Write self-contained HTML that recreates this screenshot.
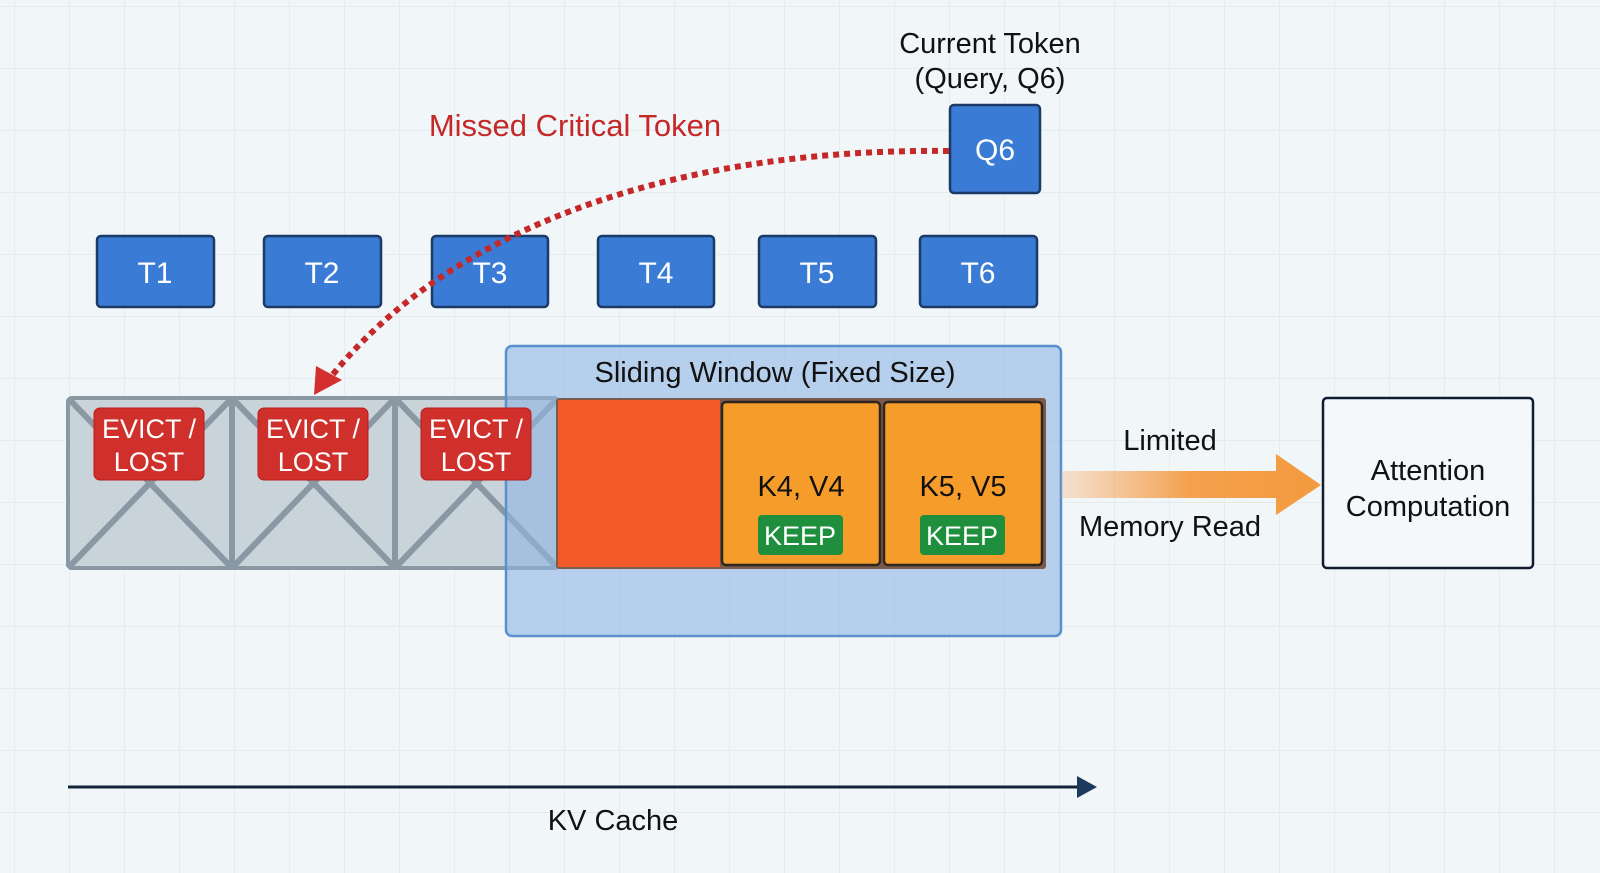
<!DOCTYPE html>
<html><head><meta charset="utf-8"><style>
html,body{margin:0;padding:0;background:#f1f6f9;}
svg{display:block;}
text{font-family:"Liberation Sans",sans-serif;}
</style></head><body>
<svg width="1600" height="873" viewBox="0 0 1600 873" xmlns="http://www.w3.org/2000/svg">
<defs>
<pattern id="g" width="55" height="62" patternUnits="userSpaceOnUse" x="14" y="6">
<path d="M0 0H55M0 0V62" stroke="#dde5ea" stroke-width="1.2" fill="none"/>
</pattern>
<linearGradient id="ar" x1="0" x2="1">
<stop offset="0" stop-color="#f7a55a" stop-opacity="0.25"/>
<stop offset="0.5" stop-color="#f4a04d"/>
<stop offset="1" stop-color="#f39a3d"/>
</linearGradient>
</defs>
<rect width="1600" height="873" fill="#f1f6f9"/>
<rect width="1600" height="873" fill="url(#g)"/>

<!-- Current token -->
<text x="990" y="53" font-size="29" text-anchor="middle" fill="#111">Current Token</text>
<text x="990" y="88" font-size="29" text-anchor="middle" fill="#111">(Query, Q6)</text>
<rect x="950" y="105" width="90" height="88" rx="4" fill="#3a7bd5" stroke="#1c3a66" stroke-width="2.5"/>
<text x="995" y="160" font-size="30" text-anchor="middle" fill="#fff">Q6</text>

<text x="575" y="136" font-size="31" text-anchor="middle" fill="#c62828">Missed Critical Token</text>

<!-- tokens -->
<g stroke="#1c3a66" stroke-width="2.5" fill="#3a7bd5">
<rect x="97" y="236" width="117" height="71" rx="4"/>
<rect x="264" y="236" width="117" height="71" rx="4"/>
<rect x="432" y="236" width="116" height="71" rx="4"/>
<rect x="598" y="236" width="116" height="71" rx="4"/>
<rect x="759" y="236" width="117" height="71" rx="4"/>
<rect x="920" y="236" width="117" height="71" rx="4"/>
</g>
<g font-size="30" fill="#fff" text-anchor="middle">
<text x="155" y="283">T1</text><text x="322" y="283">T2</text><text x="490" y="283">T3</text>
<text x="656" y="283">T4</text><text x="817" y="283">T5</text><text x="978" y="283">T6</text>
</g>

<!-- evicted cells -->
<rect x="68" y="398" width="490" height="170" rx="4" fill="#c9d3da" stroke="#8a98a3" stroke-width="4"/>
<g stroke="#8a98a3" stroke-width="6">
<line x1="232" y1="398" x2="232" y2="568"/><line x1="395" y1="398" x2="395" y2="568"/>
<path d="M68 398L232 568M232 398L68 568M232 398L395 568M395 398L232 568M395 398L558 568M558 398L395 568" fill="none"/>
</g>

<!-- sliding window -->
<rect x="506" y="346" width="555" height="290" rx="6" fill="#8fb6e3" fill-opacity="0.6" stroke="#5b8fcf" stroke-width="2.5"/>
<text x="775" y="382" font-size="29" text-anchor="middle" fill="#111">Sliding Window (Fixed Size)</text>
<rect x="556" y="398" width="490" height="171" fill="#7a5a4a" rx="3"/>
<rect x="558" y="400" width="162" height="167" fill="#f25a2a"/>
<rect x="722" y="402" width="158" height="163" rx="4" fill="#f59c2a" stroke="#2e2520" stroke-width="2.5"/>
<rect x="884" y="402" width="158" height="163" rx="4" fill="#f59c2a" stroke="#2e2520" stroke-width="2.5"/>
<text x="801" y="496" font-size="29" text-anchor="middle" fill="#111">K4, V4</text>
<text x="963" y="496" font-size="29" text-anchor="middle" fill="#111">K5, V5</text>
<rect x="758" y="515" width="85" height="40" rx="4" fill="#1f8f3e"/>
<rect x="920" y="515" width="85" height="40" rx="4" fill="#1f8f3e"/>
<text x="800" y="545" font-size="27" text-anchor="middle" fill="#fff">KEEP</text>
<text x="962" y="545" font-size="27" text-anchor="middle" fill="#fff">KEEP</text>

<!-- evict labels on top -->
<g fill="#d0302b" stroke="#b71c1c" stroke-width="1">
<rect x="94" y="408" width="110" height="72" rx="6"/>
<rect x="258" y="408" width="110" height="72" rx="6"/>
<rect x="421" y="408" width="110" height="72" rx="6"/>
</g>
<g font-size="27" fill="#fff" text-anchor="middle">
<text x="149" y="438">EVICT /</text><text x="149" y="471">LOST</text>
<text x="313" y="438">EVICT /</text><text x="313" y="471">LOST</text>
<text x="476" y="438">EVICT /</text><text x="476" y="471">LOST</text>
</g>

<!-- dotted curve -->
<path d="M949 151 C 700 148 460 215 330 378" fill="none" stroke="#c62828" stroke-width="6" stroke-dasharray="6 5"/>
<polygon points="314,395 316,366 342,380" fill="#d32f2f"/>

<!-- memory read arrow -->
<polygon points="1061,471 1276,471 1276,454 1321,485 1276,515 1276,498 1061,498" fill="url(#ar)"/>
<text x="1170" y="450" font-size="29" text-anchor="middle" fill="#111">Limited</text>
<text x="1170" y="536" font-size="29" text-anchor="middle" fill="#111">Memory Read</text>

<rect x="1323" y="398" width="210" height="170" rx="4" fill="#f4f8fb" stroke="#111c33" stroke-width="2.5"/>
<text x="1428" y="480" font-size="29" text-anchor="middle" fill="#111">Attention</text>
<text x="1428" y="516" font-size="29" text-anchor="middle" fill="#111">Computation</text>

<!-- KV axis -->
<line x1="68" y1="787" x2="1080" y2="787" stroke="#13243a" stroke-width="3"/>
<polygon points="1077,776 1097,787 1077,798" fill="#1c3a5e"/>
<text x="613" y="830" font-size="29" text-anchor="middle" fill="#111">KV Cache</text>
</svg>
</body></html>
